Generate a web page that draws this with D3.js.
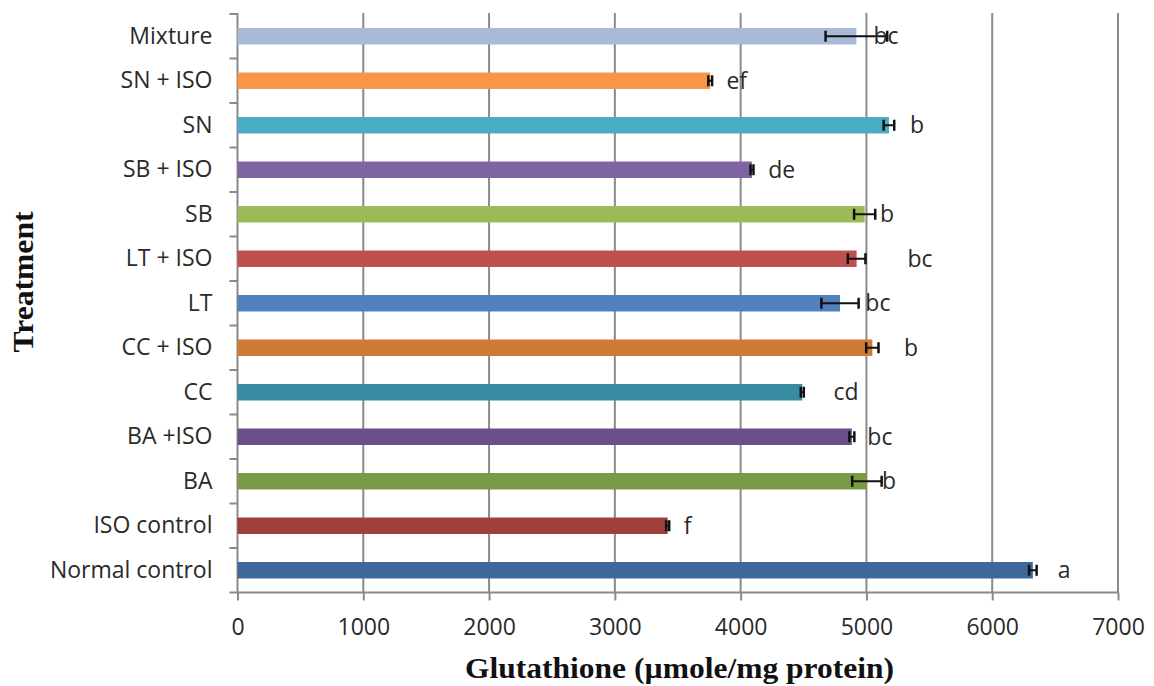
<!DOCTYPE html>
<html>
<head>
<meta charset="utf-8">
<script src="https://d3js.org/d3.v7.min.js"></script>
<style>
  body { margin: 0; background: #fff; }
  .cat-label, .tick text { font-family: "Open Sans", sans-serif; font-size: 23px; fill: #2a2a2a; }
  .axis-title { font-family: "Liberation Serif", "Times New Roman", serif; font-weight: bold; font-size: 29px; fill: #111; }
</style>
</head>
<body>
<div id="chart"></div>
<script>

// treatments, top to bottom as in the figure
var treatments = ["Mixture", "SN + ISO", "SN", "SB + ISO", "SB", "LT + ISO", "LT",
                  "CC + ISO", "CC", "BA +ISO", "BA", "ISO control", "Normal control"];

// glutathione means and error (µmole/mg protein)
var means  = [4920, 3758, 5179, 4090, 4986, 4922, 4790, 5047, 4490, 4884, 5004, 3420, 6323];
var errors = [245,  15,   42,   12,   84,   70,   148,  49,   12,   20,   117,  12,   30];

// significance letters and where they sit (in data units)
var letters   = ["bc", "ef", "b", "de", "b", "bc", "bc", "b", "cd", "bc", "b", "f", "a"];
var letterPos = [5155, 3969, 5402, 4327, 5163, 5426, 5091, 5354, 4837, 5107, 5179, 3579, 6572];

var colors = ["#a9b9d9", "#f79646", "#4bacc6", "#8064a2", "#9bbb59", "#c0504d", "#4f81bd",
              "#cf7b34", "#388aa0", "#6a4f8a", "#7b9a46", "#9e3f3b", "#3e689c"];

var xTicks = [0, 1000, 2000, 3000, 4000, 5000, 6000, 7000];


BarChart = function (_parentElement) {
  this.parentElement = _parentElement;
  this.data = treatments.map(function (t, i) {
    return { name: t, mean: means[i], err: errors[i], letter: letters[i], lpos: letterPos[i], color: colors[i] };
  });
  this.initVis();
}

BarChart.prototype.initVis = function () {
  var vis = this;

  vis.margin = { top: 13, right: 36, bottom: 93.5, left: 237.5 };
  vis.width = 1154 - vis.margin.left - vis.margin.right;
  vis.height = 686 - vis.margin.top - vis.margin.bottom;

  vis.svg = d3.select("#" + vis.parentElement).append("svg")
      .attr("width", 1154)
      .attr("height", 686)
    .append("g")
      .attr("transform", "translate(" + vis.margin.left + "," + vis.margin.top + ")");

  vis.x = d3.scaleLinear()
      .domain([0, 7000])
      .range([0, vis.width]);

  vis.y = d3.scaleBand()
      .domain(treatments)
      .range([1, vis.height])
      .padding(0);

  // vertical gridlines
  vis.svg.append("g").attr("class", "grid")
    .selectAll("line")
    .data(xTicks.slice(1))
    .enter().append("line")
      .attr("x1", function (d) { return vis.x(d); })
      .attr("x2", function (d) { return vis.x(d); })
      .attr("y1", 0)
      .attr("y2", vis.height)
      .attr("stroke", "#8a8a8a")
      .attr("stroke-width", 2);

  // x axis
  vis.xAxis = d3.axisBottom(vis.x)
      .tickValues(xTicks)
      .tickFormat(d3.format("d"))
      .tickSize(8)
      .tickPadding(18)
      .tickSizeOuter(0);

  var gx = vis.svg.append("g")
      .attr("class", "x-axis axis")
      .attr("transform", "translate(0," + vis.height + ")")
      .call(vis.xAxis);
  gx.selectAll("line, path").attr("stroke", "#8a8a8a").attr("stroke-width", 2);
  gx.select(".domain").attr("d", "M" + (-8) + ",0H" + vis.width);

  // y axis: labels at band centres, ticks on band edges
  vis.yAxis = d3.axisLeft(vis.y).tickSize(0).tickPadding(25).tickSizeOuter(0);
  var gy = vis.svg.append("g")
      .attr("class", "y-axis axis")
      .call(vis.yAxis);
  gy.select(".domain").attr("d", "M0,0V" + vis.height).attr("stroke", "#8a8a8a").attr("stroke-width", 2);
  gy.selectAll(".tick text").attr("class", "cat-label");

  gy.selectAll(".edge")
    .data(treatments)
    .enter().append("line")
      .attr("class", "edge")
      .attr("x1", -8).attr("x2", 0)
      .attr("y1", function (d) { return vis.y(d); })
      .attr("y2", function (d) { return vis.y(d); })
      .attr("stroke", "#8a8a8a")
      .attr("stroke-width", 2);

  vis.updateVis();
}

BarChart.prototype.updateVis = function () {
  var vis = this;
  var barH = vis.y.bandwidth() * 0.37;
  var capH = 11;

  var rows = vis.svg.selectAll(".row")
      .data(vis.data)
    .enter().append("g")
      .attr("class", "row")
      .attr("transform", function (d) { return "translate(0," + (vis.y(d.name) + vis.y.bandwidth() / 2) + ")"; });

  rows.append("rect")
      .attr("x", 0)
      .attr("y", -barH / 2)
      .attr("width", function (d) { return vis.x(d.mean); })
      .attr("height", barH)
      .attr("fill", function (d) { return d.color; });

  // error bars
  rows.append("line")
      .attr("x1", function (d) { return vis.x(d.mean - d.err); })
      .attr("x2", function (d) { return vis.x(d.mean + d.err); })
      .attr("y1", 0).attr("y2", 0)
      .attr("stroke", "#111").attr("stroke-width", 2);

  rows.selectAll(".cap")
      .data(function (d) { return [d.mean - d.err, d.mean + d.err]; })
    .enter().append("line")
      .attr("class", "cap")
      .attr("x1", function (v) { return vis.x(v); })
      .attr("x2", function (v) { return vis.x(v); })
      .attr("y1", -capH / 2).attr("y2", capH / 2)
      .attr("stroke", "#111").attr("stroke-width", 2.5);

  rows.append("text")
      .attr("class", "cat-label")
      .attr("x", function (d) { return vis.x(d.lpos); })
      .attr("dy", "0.35em")
      .attr("text-anchor", "middle")
      .text(function (d) { return d.letter; });

  // axis titles
  vis.svg.append("text")
      .attr("class", "axis-title")
      .attr("x", 679.5 - vis.margin.left)
      .attr("y", 678 - vis.margin.top)
      .attr("text-anchor", "middle")
      .attr("textLength", 429)
      .attr("lengthAdjust", "spacingAndGlyphs")
      .text("Glutathione (µmole/mg protein)");

  vis.svg.append("text")
      .attr("class", "axis-title")
      .attr("transform", "translate(" + (33 - vis.margin.left) + "," + (282 - vis.margin.top) + ") rotate(-90)")
      .attr("text-anchor", "middle")
      .attr("textLength", 141)
      .attr("lengthAdjust", "spacingAndGlyphs")
      .text("Treatment");
}

new BarChart("chart");
</script>
</body>
</html>
